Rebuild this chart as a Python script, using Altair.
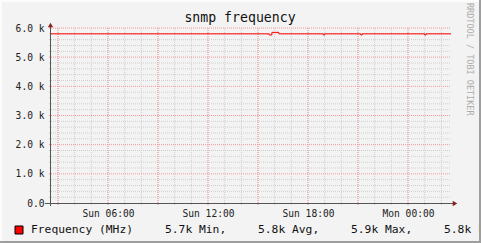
import altair as alt
import pandas as pd

# ---- data ----
times = ["2024-01-07T02:34:48", "2024-01-07T15:40:00", "2024-01-07T15:50:00",
         "2024-01-07T16:15:00", "2024-01-07T18:55:00", "2024-01-07T19:00:00",
         "2024-01-07T21:10:00", "2024-01-07T21:15:00", "2024-01-08T01:00:00",
         "2024-01-08T01:05:00", "2024-01-08T02:34:48"]
values = [5800, 5760, 5850, 5800, 5760, 5800, 5760, 5800, 5760, 5800, 5800]

minor_x = ["2024-01-07T%02d:00:00" % h for h in range(3, 24)] + \
          ["2024-01-08T%02d:00:00" % h for h in range(0, 3)]
major_x = ["2024-01-07T03:00:00", "2024-01-07T06:00:00", "2024-01-07T09:00:00",
           "2024-01-07T12:00:00", "2024-01-07T15:00:00", "2024-01-07T18:00:00",
           "2024-01-07T21:00:00", "2024-01-08T00:00:00"]
minor_y = [200, 400, 600, 800, 1200, 1400, 1600, 1800, 2200, 2400, 2600, 2800,
           3200, 3400, 3600, 3800, 4200, 4400, 4600, 4800, 5200, 5400, 5600, 5800]
major_y = [1000, 2000, 3000, 4000, 5000, 6000]
y_ticks = [0, 1000, 2000, 3000, 4000, 5000, 6000]

title_text = "snmp frequency"
legend_name = "Frequency (MHz)"
legend_stats = ["5.7k Min,", "5.8k Avg,", "5.9k Max,", "5.8k Last"]
watermark = "RRDTOOL / TOBI OETIKER"

MONO = "DejaVu Sans Mono"
BG = "#F3F3F3"

xscale = alt.Scale(domain=[
    alt.DateTime(year=2024, month=1, date=7, hours=2, minutes=34, seconds=48),
    alt.DateTime(year=2024, month=1, date=8, hours=2, minutes=34, seconds=48)])
yscale = alt.Scale(domain=[0, 6000], nice=False, zero=True)

label_vals = [alt.DateTime(year=2024, month=1, date=7, hours=6),
              alt.DateTime(year=2024, month=1, date=7, hours=12),
              alt.DateTime(year=2024, month=1, date=7, hours=18),
              alt.DateTime(year=2024, month=1, date=8, hours=0)]

xaxis = alt.Axis(values=label_vals, format="%a %H:%M", labelFont=MONO,
                 labelFontSize=9.6, labelColor="#222222", ticks=False,
                 domain=False, grid=False, labelPadding=5, labelFlush=False,
                 title=None)
yaxis = alt.Axis(values=y_ticks, labelFont=MONO, labelFontSize=9.6,
                 labelColor="#222222", ticks=False, domain=False, grid=False,
                 labelPadding=7, title=None,
                 labelExpr="datum.value == 0 ? '0.0' : format(datum.value/1000, '.1f') + ' k'")

df = pd.DataFrame({"t": times, "v": values})
one = pd.DataFrame({"a": [0]})

vminor = alt.Chart(pd.DataFrame({"t": minor_x})).mark_rule(
    color="#CFCFCF", strokeDash=[1, 1], strokeWidth=1).encode(
    x=alt.X("t:T", scale=xscale, axis=xaxis, title=None),
    y=alt.value(0), y2=alt.value(177))
vmajor = alt.Chart(pd.DataFrame({"t": major_x})).mark_rule(
    color="#F39A9A", strokeDash=[1, 1], strokeWidth=1).encode(
    x=alt.X("t:T", scale=xscale, axis=xaxis, title=None),
    y=alt.value(0), y2=alt.value(177))
hminor = alt.Chart(pd.DataFrame({"v": minor_y})).mark_rule(
    color="#CFCFCF", strokeDash=[1, 1], strokeWidth=1).encode(
    y=alt.Y("v:Q", scale=yscale, axis=yaxis, title=None),
    x=alt.value(-2), x2=alt.value(400))
hmajor = alt.Chart(pd.DataFrame({"v": major_y})).mark_rule(
    color="#F39A9A", strokeDash=[1, 1], strokeWidth=1).encode(
    y=alt.Y("v:Q", scale=yscale, axis=yaxis, title=None),
    x=alt.value(-2), x2=alt.value(400))

line = alt.Chart(df).mark_line(color="#FF0000", strokeWidth=1,
                               interpolate="step-after").encode(
    x=alt.X("t:T", scale=xscale, axis=xaxis, title=None),
    y=alt.Y("v:Q", scale=yscale, axis=yaxis, title=None))

axis_color = "#555555"
xaxis_line = alt.Chart(one).mark_rule(color=axis_color).encode(
    x=alt.value(-6), x2=alt.value(404), y=alt.value(175.5))
yaxis_line = alt.Chart(one).mark_rule(color=axis_color).encode(
    x=alt.value(-0.5), y=alt.value(-4), y2=alt.value(178))
arrow_up = alt.Chart(one).mark_point(shape="triangle-up", filled=True,
                                     color="#8B2222", size=28, opacity=1).encode(
    x=alt.value(-0.5), y=alt.value(-3))
arrow_right = alt.Chart(one).mark_point(shape="triangle-right", filled=True,
                                        color="#8B2222", size=28, opacity=1).encode(
    x=alt.value(404), y=alt.value(175.5))

title = alt.Chart(one).mark_text(font=MONO, fontSize=13.2, color="#111111",
                                 align="center", baseline="alphabetic").encode(
    x=alt.value(189), y=alt.value(-6), text=alt.value(title_text))

wm = alt.Chart(one).mark_text(font=MONO, fontSize=8.5, color="#ABABAB",
                              align="left", baseline="middle", angle=90).encode(
    x=alt.value(419), y=alt.value(-25), text=alt.value(watermark))

swatch = alt.Chart(one).mark_square(color="#FF0000", stroke="#000000",
                                    strokeWidth=1, size=64, opacity=1).encode(
    x=alt.value(-32), y=alt.value(202))

leg_name = alt.Chart(one).mark_text(font=MONO, fontSize=11.3, color="#111111",
                                    align="left", baseline="alphabetic").encode(
    x=alt.value(-20), y=alt.value(205), text=alt.value(legend_name))

stat_x = [114, 207, 300, 393]
stats = [alt.Chart(one).mark_text(font=MONO, fontSize=11.3, color="#111111",
                                  align="left", baseline="alphabetic").encode(
    x=alt.value(sx), y=alt.value(205), text=alt.value(s))
    for sx, s in zip(stat_x, legend_stats)]

# 3D border
b_light_top = alt.Chart(one).mark_rule(color="#FCFCFC", strokeWidth=2).encode(
    x=alt.value(-51), x2=alt.value(430), y=alt.value(-27))
b_light_left = alt.Chart(one).mark_rule(color="#FCFCFC", strokeWidth=2).encode(
    x=alt.value(-50), y=alt.value(-28), y2=alt.value(215))
b_dark_bottom = alt.Chart(one).mark_rule(color="#9E9E9E", strokeWidth=2).encode(
    x=alt.value(-51), x2=alt.value(430), y=alt.value(214))
b_dark_right = alt.Chart(one).mark_rule(color="#9E9E9E", strokeWidth=2).encode(
    x=alt.value(429), y=alt.value(-28), y2=alt.value(215))

chart = alt.layer(
    vminor, hminor, vmajor, hmajor, line, xaxis_line, yaxis_line,
    arrow_up, arrow_right, title, wm, swatch, leg_name, *stats,
    b_light_top, b_light_left, b_dark_bottom, b_dark_right
).properties(
    width=400, height=175,
    padding={"left": 51, "top": 28, "right": 30, "bottom": 40},
    autosize="none", background=BG
).configure_view(stroke=None)

chart.save("out.html", embed_options={"renderer": "svg", "actions": False})
